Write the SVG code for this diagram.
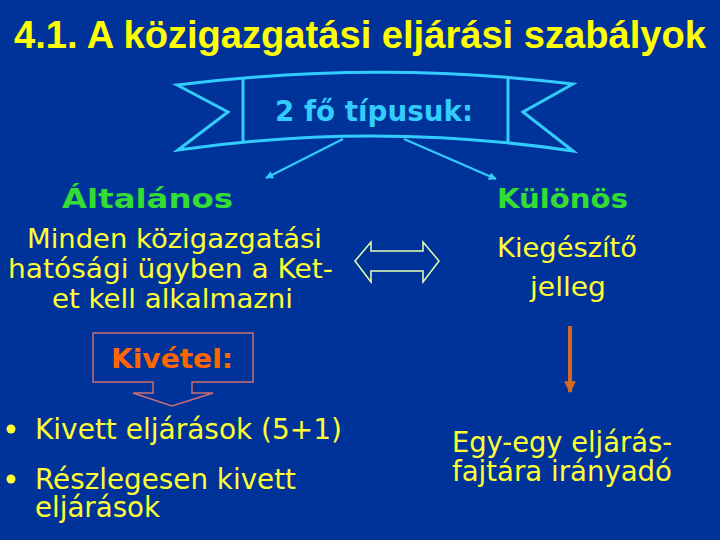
<svg xmlns="http://www.w3.org/2000/svg" width="720" height="540" viewBox="0 0 720 540">
<style>
.f{font-family:"DejaVu Sans","Verdana","Liberation Sans",sans-serif}
.title{font-family:"Liberation Sans","Arial",sans-serif;fill:#FFFF00;font-weight:bold;font-size:38px}
.cy{fill:#33CCFF;font-weight:bold;font-size:28px}
.gr{fill:#33DD33;font-weight:bold;font-size:27px}
.yl{fill:#FFFF33;font-size:27px}
.yb{fill:#FFFF33;font-size:29px}
.or{fill:#FF6600;font-weight:bold;font-size:27px}
.ban{fill:none;stroke:#33CCFF;stroke-width:3;stroke-linejoin:miter}
</style>
<defs>
<marker id="ac" viewBox="0 0 10 10" refX="9" refY="5" markerWidth="4" markerHeight="4" orient="auto"><path d="M0,0L10,5L0,10z" fill="#33CCFF"/></marker>
<marker id="ao" viewBox="0 0 10 10" refX="9" refY="5" markerWidth="3" markerHeight="3" orient="auto"><path d="M0,0L10,5L0,10z" fill="#D2691E"/></marker>
</defs>
<rect width="720" height="540" fill="#003399"/>
<g id="title"><text class="title" x="14" y="48" textLength="692" lengthAdjust="spacingAndGlyphs">4.1. A közigazgatási eljárási szabályok</text></g>
<g id="banner">
<path class="ban" d="M177,85 Q375,60 573,84 L523,112 L573,151 Q375,121.5 178,150 L228,112 Z"/>
<line class="ban" x1="243" y1="78" x2="243" y2="142"/>
<line class="ban" x1="508" y1="78" x2="508" y2="142"/>
<text class="f cy" x="275" y="121" textLength="198" lengthAdjust="spacingAndGlyphs">2 fő típusuk:</text>
</g>
<g id="altalanos">
<text class="f gr" x="62" y="208" textLength="171" lengthAdjust="spacingAndGlyphs">Általános</text>
<text class="f yl" x="27" y="248" textLength="295" lengthAdjust="spacingAndGlyphs">Minden közigazgatási</text>
<text class="f yl" x="8" y="278" textLength="325" lengthAdjust="spacingAndGlyphs">hatósági ügyben a Ket-</text>
<text class="f yl" x="52" y="308" textLength="241" lengthAdjust="spacingAndGlyphs">et kell alkalmazni</text>
</g>
<g id="kulonos">
<text class="f gr" x="497" y="208" textLength="131" lengthAdjust="spacingAndGlyphs">Különös</text>
<text class="f yl" x="497" y="257" textLength="140" lengthAdjust="spacingAndGlyphs">Kiegészítő</text>
<text class="f yl" x="530" y="296" textLength="76" lengthAdjust="spacingAndGlyphs">jelleg</text>
</g>
<g id="kivetel">
<path d="M93,333 H253 V382 H192 V393 H213 L172,406 L133,393 H153 V382 H93 Z" fill="none" stroke="#C87070" stroke-width="1.5"/>
<text class="f or" x="111" y="368" textLength="122" lengthAdjust="spacingAndGlyphs">Kivétel:</text>
</g>
<g id="kivett">
<circle cx="11" cy="429" r="4.5" fill="#FFFF33"/>
<text class="f yb" x="35" y="439" textLength="307" lengthAdjust="spacingAndGlyphs">Kivett eljárások (5+1)</text>
<circle cx="11" cy="479" r="4.5" fill="#FFFF33"/>
<text class="f yb" x="35" y="489" textLength="261" lengthAdjust="spacingAndGlyphs">Részlegesen kivett</text>
<text class="f yb" x="35" y="517" textLength="125" lengthAdjust="spacingAndGlyphs">eljárások</text>
</g>
<g id="egyegy">
<text class="f yb" x="452" y="452" textLength="220" lengthAdjust="spacingAndGlyphs">Egy-egy eljárás-</text>
<text class="f yb" x="452" y="481" textLength="220" lengthAdjust="spacingAndGlyphs">fajtára irányadó</text>
</g>
<g id="connectors">
<line x1="343" y1="139" x2="266" y2="178" stroke="#33CCFF" stroke-width="2" marker-end="url(#ac)"/>
<line x1="404" y1="139" x2="496" y2="179" stroke="#33CCFF" stroke-width="2" marker-end="url(#ac)"/>
<path d="M355,261 L371,242 V251 H423 V242 L439,261 L423,282 V271 H371 V282 Z" fill="none" stroke="#E6FFB0" stroke-width="1.5"/>
<line x1="570" y1="326" x2="570" y2="392" stroke="#D2691E" stroke-width="4" marker-end="url(#ao)"/>
</g>
</svg>
